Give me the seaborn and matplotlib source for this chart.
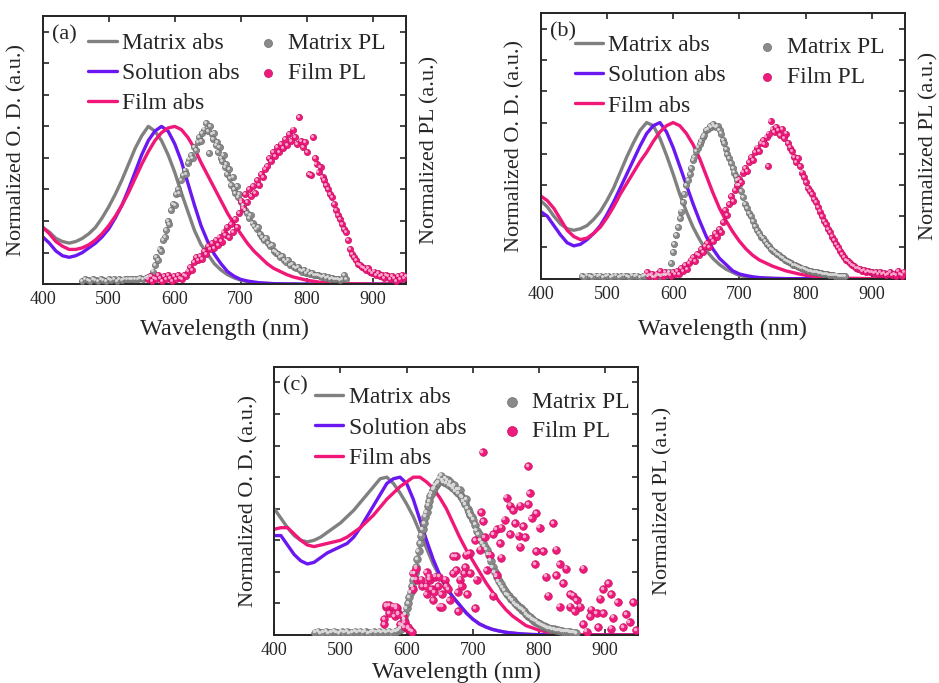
import numpy as np
import matplotlib
matplotlib.use("Agg")
import matplotlib.pyplot as plt
import seaborn as sns
from matplotlib.transforms import offset_copy

sns.set_style("ticks")
plt.rcParams["font.family"] = ["Liberation Serif", "DejaVu Serif"]
plt.rcParams["xtick.direction"] = "in"
plt.rcParams["ytick.direction"] = "in"
plt.rcParams["axes.linewidth"] = 1.3

# ---------------------------------------------------------------------------
# Absorption spectra (normalised optical density) on a common wavelength grid
# ---------------------------------------------------------------------------
abs_wl = [400, 410, 420, 430, 440, 450, 460, 470, 480, 490,
          500, 510, 520, 530, 540, 550, 560, 570, 580, 590,
          600, 610, 620, 630, 640, 650, 660, 670, 680, 690,
          700, 710, 720, 730, 740, 750, 760, 770, 780, 790,
          800, 820, 850, 900, 950]

a_matrix_abs = [.36, .33, .29, .27, .26, .27, .29, .32, .36, .42,
                .49, .57, .66, .76, .86, .94, 1.00, .97, .91, .82,
                .71, .58, .46, .34, .25, .19, .13, .09, .06, .04,
                .025, .017, .011, .007, .005, .003, .002, .001, .001, 0,
                0, 0, 0, 0, 0]
a_solution_abs = [.30, .26, .21, .18, .17, .18, .20, .23, .26, .30,
                  .35, .42, .50, .60, .71, .82, .91, .97, 1.00, .97,
                  .89, .78, .64, .50, .37, .27, .19, .13, .08, .05,
                  .03, .02, .013, .008, .005, .003, .002, .001, .001, 0,
                  0, 0, 0, 0, 0]
a_film_abs = [.36, .32, .27, .24, .22, .22, .23, .25, .28, .32,
              .37, .43, .50, .58, .67, .76, .84, .91, .96, .99,
              1.00, .98, .93, .86, .77, .69, .61, .53, .45, .38,
              .32, .26, .21, .17, .13, .10, .08, .06, .045, .035,
              .025, .012, .004, 0, 0]

b_matrix_abs = [.50, .46, .40, .35, .32, .31, .32, .34, .38, .43,
                .50, .58, .68, .78, .87, .95, 1.00, .98, .90, .79,
                .67, .54, .43, .33, .25, .18, .13, .09, .06, .04,
                .02, .013, .008, .005, .003, .002, .001, 0, 0, 0,
                0, 0, 0, 0, 0]
b_solution_abs = [.43, .40, .34, .28, .23, .21, .22, .25, .29, .34,
                  .41, .49, .58, .67, .76, .85, .93, .98, 1.00, .94,
                  .84, .72, .60, .48, .37, .27, .19, .13, .09, .05,
                  .03, .02, .012, .007, .004, .002, .001, 0, 0, 0,
                  0, 0, 0, 0, 0]
b_film_abs = [.53, .50, .45, .38, .31, .27, .25, .26, .29, .33,
              .39, .46, .54, .61, .68, .75, .81, .88, .94, .98,
              1.00, .98, .93, .86, .77, .66, .55, .45, .37, .30,
              .24, .19, .15, .12, .10, .08, .065, .05, .04, .03,
              .022, .012, .004, 0, 0]

c_matrix_abs = [.80, .74, .68, .63, .60, .59, .60, .62, .65, .68,
                .71, .75, .79, .84, .89, .94, .99, 1.00, .96, .90,
                .83, .75, .65, .55, .45, .37, .30, .24, .19, .14,
                .10, .07, .05, .035, .025, .017, .012, .008, .005, .003,
                .002, .001, 0, 0, 0]
c_solution_abs = [.63, .63, .57, .51, .47, .45, .46, .49, .52, .54,
                  .56, .58, .62, .68, .75, .82, .89, .96, .99, 1.00,
                  .96, .86, .73, .60, .48, .38, .30, .24, .19, .14,
                  .10, .07, .05, .035, .025, .017, .012, .008, .005, .003,
                  .002, .001, 0, 0, 0]
c_film_abs = [.67, .68, .68, .64, .60, .57, .56, .57, .58, .59,
              .60, .62, .65, .68, .72, .76, .81, .86, .90, .94,
              .97, 1.00, 1.00, .97, .93, .87, .80, .71, .62, .54,
              .47, .40, .33, .27, .21, .16, .12, .09, .06, .045,
              .03, .012, .003, 0, 0]

# ---------------------------------------------------------------------------
# Photoluminescence spectra: (wavelength nm, normalised intensity)
# ---------------------------------------------------------------------------
a_matrix_pl = np.array([
    (460, .02), (464, .03), (468, .025), (472, .02), (476, .03), (480, .025),
    (484, .02), (488, .03), (492, .025), (496, .02), (500, .03), (504, .025),
    (508, .03), (512, .02), (516, .03), (520, .025), (524, .03), (528, .035),
    (532, .03), (536, .03), (540, .035), (544, .03), (548, .04), (552, .035),
    (556, .04), (560, .045), (564, .05), (567, .08), (570, .12), (572, .17),
    (575, .15), (577, .22), (580, .21), (582, .28), (585, .30), (587, .34),
    (590, .40), (592, .38), (595, .47), (597, .51), (600, .50), (602, .57),
    (605, .60), (607, .58), (610, .66), (612, .69), (615, .72), (617, .70),
    (620, .77), (622, .79), (625, .82), (627, .80), (630, .87), (632, .85),
    (635, .90), (637, .93), (640, .91), (642, .96), (645, .98), (647, 1.02),
    (650, .97), (652, .83), (654, 1.00), (656, .95), (658, .92), (660, .96),
    (662, .88), (664, .90), (666, .84), (668, .87), (670, .80), (672, .78),
    (674, .82), (676, .74), (678, .76), (680, .70), (682, .73), (684, .67),
    (686, .63), (688, .68), (690, .60), (692, .58), (694, .62), (696, .55),
    (698, .57), (700, .52), (703, .50), (706, .47), (709, .45), (712, .42),
    (715, .44), (718, .39), (721, .37), (724, .35), (727, .36), (730, .32),
    (733, .30), (736, .28), (739, .29), (742, .26), (745, .24), (748, .25),
    (751, .21), (754, .20), (757, .19), (760, .17), (763, .18), (766, .15),
    (769, .14), (772, .15), (775, .12), (778, .13), (781, .11), (784, .10),
    (787, .11), (790, .09), (793, .08), (796, .09), (799, .07), (802, .08),
    (805, .065), (808, .07), (811, .06), (814, .055), (817, .06), (820, .05),
    (823, .045), (826, .05), (829, .04), (832, .045), (835, .035), (838, .04),
    (841, .03), (844, .035), (847, .03), (850, .025), (853, .03), (856, .06),
    (859, .03)])

a_film_pl = np.array([
    (560, .03), (563, .05), (566, .02), (569, .04), (572, .03), (575, .06),
    (578, .04), (581, .02), (584, .05), (587, .03), (590, .06), (593, .04),
    (596, .02), (599, .05), (602, .03), (605, .06), (608, .04), (611, .03),
    (614, .06), (617, .05), (620, .08), (623, .11), (626, .09), (629, .14),
    (632, .17), (635, .15), (638, .18), (641, .16), (644, .21), (647, .19),
    (650, .24), (653, .22), (656, .26), (659, .23), (662, .28), (665, .25),
    (668, .30), (671, .27), (674, .33), (677, .31), (680, .36), (683, .30),
    (686, .38), (689, .33), (692, .41), (695, .36), (698, .45), (701, .53),
    (704, .48), (707, .57), (710, .52), (713, .60), (716, .56), (719, .62),
    (722, .58), (725, .66), (728, .63), (731, .70), (734, .68), (737, .73),
    (740, .75), (743, .80), (746, .78), (749, .84), (752, .81), (755, .87),
    (758, .84), (761, .89), (764, .86), (767, .92), (770, .88), (773, .95),
    (776, .91), (779, .98), (782, .93), (785, .89), (788, 1.06), (791, .91),
    (794, .87), (797, .90), (800, .84), (803, .70), (806, .69), (809, .93),
    (812, .80), (815, .76), (818, .71), (821, .74), (824, .68), (827, .66),
    (830, .63), (833, .60), (836, .57), (839, .55), (842, .51), (845, .47),
    (848, .44), (851, .41), (854, .38), (857, .35), (860, .33), (863, .28),
    (866, .22), (869, .19), (872, .17), (875, .15), (878, .13), (881, .12),
    (884, .11), (887, .10), (890, .09), (893, .10), (896, .08), (899, .07),
    (902, .08), (905, .06), (908, .07), (911, .05), (914, .06), (917, .04),
    (920, .06), (923, .05), (926, .03), (929, .05), (932, .04), (935, .02),
    (938, .05), (941, .03), (944, .06), (947, .04), (950, .05)])

b_matrix_pl = np.array([
    (462, .015), (466, .01), (470, .02), (474, .015), (478, .01), (482, .02),
    (486, .015), (490, .02), (494, .01), (498, .015), (502, .02), (506, .01),
    (510, .015), (514, .02), (518, .01), (522, .015), (526, .02), (530, .015),
    (534, .01), (538, .02), (542, .015), (546, .02), (550, .01), (554, .015),
    (558, .02), (562, .015), (566, .02), (570, .01), (574, .015), (578, .02),
    (582, .015), (586, .02), (590, .025), (594, .04), (597, .10), (600, .17),
    (602, .22), (605, .28), (607, .33), (610, .39), (612, .43), (615, .49),
    (617, .54), (620, .60), (622, .63), (625, .67), (627, .71), (630, .76),
    (632, .78), (635, .82), (637, .84), (640, .86), (642, .88), (645, .91),
    (647, .92), (650, .95), (652, .96), (655, .98), (657, .97), (660, .99),
    (662, .98), (665, .97), (667, .98), (670, .95), (672, .93), (675, .89),
    (677, .87), (680, .83), (682, .80), (685, .77), (687, .74), (690, .71),
    (692, .68), (695, .66), (697, .63), (700, .60), (703, .56), (706, .52),
    (709, .48), (712, .45), (715, .42), (718, .40), (721, .37), (724, .34),
    (727, .31), (730, .29), (733, .27), (736, .26), (739, .24), (742, .22),
    (745, .21), (748, .19), (751, .18), (754, .17), (757, .16), (760, .15),
    (763, .14), (766, .13), (769, .12), (772, .11), (775, .105), (778, .10),
    (781, .09), (784, .085), (787, .08), (790, .075), (793, .07), (796, .065),
    (799, .06), (802, .055), (805, .05), (808, .048), (811, .045), (814, .042),
    (817, .04), (820, .038), (823, .035), (826, .032), (829, .03), (832, .028),
    (835, .026), (838, .024), (841, .022), (844, .02), (847, .02), (850, .018),
    (853, .016), (856, .015), (859, .014)])

b_film_pl = np.array([
    (560, .04), (564, .02), (568, .03), (572, .01), (576, .03), (580, .05),
    (584, .02), (588, .04), (592, .03), (596, .02), (600, .04), (603, .03),
    (606, .05), (609, .03), (612, .07), (615, .05), (618, .09), (621, .06),
    (624, .10), (627, .12), (630, .14), (633, .11), (636, .16), (639, .15),
    (642, .19), (645, .17), (648, .21), (651, .23), (654, .20), (657, .26),
    (660, .24), (663, .29), (666, .27), (669, .32), (672, .30), (675, .36),
    (678, .44), (681, .41), (684, .48), (687, .53), (690, .50), (693, .57),
    (696, .60), (699, .64), (702, .62), (705, .68), (708, .71), (711, .69),
    (714, .75), (717, .78), (720, .76), (723, .81), (726, .84), (729, .82),
    (732, .87), (735, .89), (738, .86), (741, .91), (743, .72), (744, .93),
    (747, 1.01), (750, .96), (753, .94), (756, .97), (759, .95), (762, .92),
    (765, .96), (768, .90), (771, .93), (774, .87), (777, .84), (780, .82),
    (783, .78), (786, .75), (789, .77), (792, .72), (795, .68), (798, .65),
    (801, .62), (804, .58), (807, .56), (810, .54), (813, .51), (816, .49),
    (819, .46), (822, .43), (825, .40), (828, .37), (831, .35), (834, .32),
    (837, .30), (840, .27), (843, .25), (846, .22), (849, .20), (852, .18),
    (855, .16), (858, .14), (861, .12), (864, .11), (867, .10), (870, .09),
    (873, .08), (876, .07), (879, .065), (882, .06), (885, .05), (888, .055),
    (891, .045), (894, .05), (897, .04), (900, .045), (903, .035), (906, .04),
    (909, .03), (912, .04), (915, .03), (918, .035), (921, .025), (924, .03),
    (927, .04), (930, .025), (933, .03), (936, .02), (939, .05), (942, .03),
    (945, .02), (948, .04)])

c_matrix_pl = np.array([
    (462, .015), (466, .02), (470, .01), (474, .015), (478, .02), (482, .01),
    (486, .015), (490, .02), (494, .015), (498, .01), (502, .02), (506, .015),
    (510, .02), (514, .01), (518, .015), (522, .02), (526, .015), (530, .02),
    (534, .015), (538, .02), (542, .01), (546, .015), (550, .02), (554, .015),
    (558, .02), (562, .015), (566, .02), (570, .015), (574, .02), (578, .015),
    (582, .02), (585, .025), (588, .03), (591, .04), (594, .06), (596, .10),
    (598, .13), (600, .17), (602, .20), (604, .24), (606, .27), (608, .31),
    (610, .35), (612, .39), (614, .43), (616, .48), (618, .53), (620, .58),
    (622, .63), (624, .67), (626, .71), (628, .75), (630, .78), (632, .82),
    (634, .85), (636, .88), (638, .90), (640, .92), (642, .93), (644, .95),
    (646, .96), (648, .97), (650, .99), (652, 1.01), (654, .98), (656, .97),
    (658, .99), (660, .96), (662, .98), (664, .95), (666, .97), (668, .94),
    (670, .93), (672, .95), (674, .91), (676, .92), (678, .90), (680, .92),
    (682, .88), (684, .87), (686, .85), (688, .83), (690, .86), (692, .80),
    (694, .78), (696, .76), (698, .75), (700, .73), (703, .70), (706, .66),
    (709, .64), (712, .60), (715, .58), (718, .56), (721, .54), (724, .51),
    (727, .47), (730, .43), (733, .40), (736, .37), (739, .34), (742, .32),
    (745, .30), (748, .28), (751, .26), (754, .25), (757, .23), (760, .22),
    (763, .20), (766, .19), (769, .18), (772, .17), (775, .16), (778, .15),
    (781, .13), (784, .12), (787, .115), (790, .10), (793, .09), (796, .085),
    (799, .075), (802, .07), (805, .06), (808, .055), (811, .05), (814, .045),
    (817, .04), (820, .038), (823, .035), (826, .032), (829, .03), (832, .028),
    (835, .025), (838, .022), (841, .02), (844, .02), (847, .018), (850, .015),
    (853, .014), (856, .012)])

c_film_pl = np.array([
    (566, .07), (569, .18), (574, .19), (580, .18), (585, .17), (587, .14),
    (582, .12), (590, .07), (595, .12), (597, .05), (602, .04), (605, .03),
    (608, .02), (610, .29), (615, .35), (623, .31), (630, .40), (630, .26),
    (635, .35), (638, .29), (640, .22), (643, .37), (648, .31), (650, .18),
    (653, .26), (658, .35), (663, .29), (665, .22), (670, .39), (675, .50),
    (678, .15), (681, .35), (569, .19), (574, .14), (566, .10), (584, .18),
    (587, .13), (597, .08), (602, .05), (609, .39), (614, .42), (622, .35),
    (629, .31), (634, .37), (642, .27), (649, .37), (654, .18), (660, .31),
    (670, .50), (675, .41), (677, .27), (687, .39), (695, .52),
    (715, 1.16), (784, 1.07), (786, .90), (751, .87), (756, .82), (771, .82),
    (784, .83), (713, .78), (761, .79), (796, .77), (748, .73), (789, .74),
    (716, .72), (764, .71), (776, .69), (821, .71), (736, .67), (743, .68),
    (801, .68), (756, .64), (769, .63), (779, .62), (731, .64), (718, .62),
    (703, .60), (741, .58), (771, .56), (711, .54), (796, .53), (806, .53),
    (826, .54), (690, .51), (726, .51), (688, .43), (743, .49), (794, .45),
    (831, .45), (841, .42), (867, .42), (721, .41), (696, .39), (811, .37),
    (826, .38), (706, .35), (736, .38), (836, .33), (683, .31), (904, .33),
    (691, .26), (814, .25), (847, .26), (852, .25), (897, .29), (731, .25),
    (857, .22), (892, .23), (909, .26), (831, .18), (847, .18), (862, .18),
    (879, .16), (887, .14), (919, .21), (942, .21), (703, .17), (854, .15),
    (877, .12), (897, .14), (912, .11), (932, .13), (867, .07), (889, .05),
    (909, .04), (927, .05), (937, .08), (947, .03), (872, .02)])

# ---------------------------------------------------------------------------
GRAY = "#808080"
PURPLE = "#6B17F2"
PINK = "#F01778"

fig = plt.figure(figsize=(9.39, 6.83), dpi=100)


def pl_dots(ax, data, base, rim, light, size, label):
    """Shaded 'ball' markers: a filled disc with a small highlight."""
    sns.scatterplot(x=data[:, 0], y=data[:, 1], ax=ax, s=size, color=base,
                    edgecolor=rim, linewidth=0.5, label=label, legend=False,
                    zorder=3)
    r = np.sqrt(size) / 2
    shift = offset_copy(ax.transData, fig=fig, x=-0.35 * r, y=0.35 * r,
                        units="points")
    sns.scatterplot(x=data[:, 0], y=data[:, 1], ax=ax, s=size * 0.22,
                    color=light, linewidth=0, legend=False, transform=shift,
                    zorder=4)


def panel(rect, tag, matrix_abs, solution_abs, film_abs, matrix_pl, film_pl,
          dot_size, line_leg, dot_leg, line_sp, dot_sp, xpad):
    ax = fig.add_axes(rect)
    ax2 = ax.twinx()

    for vals, color, name in [(matrix_abs, GRAY, "Matrix abs"),
                              (solution_abs, PURPLE, "Solution abs"),
                              (film_abs, PINK, "Film abs")]:
        sns.lineplot(x=abs_wl, y=vals, ax=ax, color=color, linewidth=2.4,
                     estimator=None, label=name, legend=False)

    pl_dots(ax2, matrix_pl, "#8a8a8a", "#6e6e6e", "#d9d9d9", dot_size,
            "Matrix PL")
    pl_dots(ax2, film_pl, "#ee1a7c", "#c80f62", "#fba6cc", dot_size,
            "Film PL")

    for a in (ax, ax2):
        a.set_xlim(400, 950)
        a.set_ylim(0, 1.7)
        a.set_yticks(np.arange(0, 1.61, 0.2))
        a.set_yticklabels([])
        a.set_ylabel("")
    ax.set_xticks([400, 500, 600, 700, 800, 900])
    ax.tick_params(axis="x", which="both", top=True, bottom=True,
                   length=4, width=1.2, labelsize=13, pad=5)
    ax.tick_params(axis="y", left=True, right=False, length=4, width=1.2)
    ax2.tick_params(axis="y", right=True, length=4, width=1.2)

    ax.set_xlabel("Wavelength (nm)", fontsize=17.5, labelpad=xpad)
    ax.set_ylabel("Normalized O. D. (a.u.)", fontsize=16, labelpad=8)
    ax2.set_ylabel("Normalized PL (a.u.)", fontsize=16, labelpad=7)

    ax.text(0.025, 0.965, tag, transform=ax.transAxes, fontsize=16,
            ha="left", va="top")

    lh, ll = ax.get_legend_handles_labels()
    dh, dl = ax2.get_legend_handles_labels()
    leg1 = ax2.legend(lh, ll, loc="upper left", bbox_to_anchor=line_leg,
                      frameon=False, fontsize=17, handlelength=1.2,
                      handletextpad=0.22, labelspacing=line_sp, borderpad=0,
                      borderaxespad=0)
    ax2.add_artist(leg1)
    ax2.legend(dh, dl, loc="upper left", bbox_to_anchor=dot_leg,
               frameon=False, fontsize=17, handlelength=0.8,
               handletextpad=0.46, labelspacing=dot_sp, borderpad=0,
               borderaxespad=0, scatterpoints=1, markerscale=1.3)
    for s in ax.spines.values():
        s.set_linewidth(1.3)


panel([0.0455, 0.584, 0.3865, 0.3926], "(a)",
      a_matrix_abs, a_solution_abs, a_film_abs, a_matrix_pl, a_film_pl,
      20, (0.126, 0.939), (0.594, 0.939), 0.37, 0.37, 8)
panel([0.5758, 0.592, 0.388, 0.3885], "(b)",
      b_matrix_abs, b_solution_abs, b_film_abs, b_matrix_pl, b_film_pl,
      20, (0.094, 0.92), (0.595, 0.913), 0.37, 0.36, 12)
panel([0.2921, 0.0703, 0.3877, 0.3928], "(c)",
      c_matrix_abs, c_solution_abs, c_film_abs, c_matrix_pl, c_film_pl,
      30, (0.112, 0.927), (0.626, 0.908), 0.39, 0.32, 2)

fig.savefig("out.png", dpi=100, facecolor="white")
